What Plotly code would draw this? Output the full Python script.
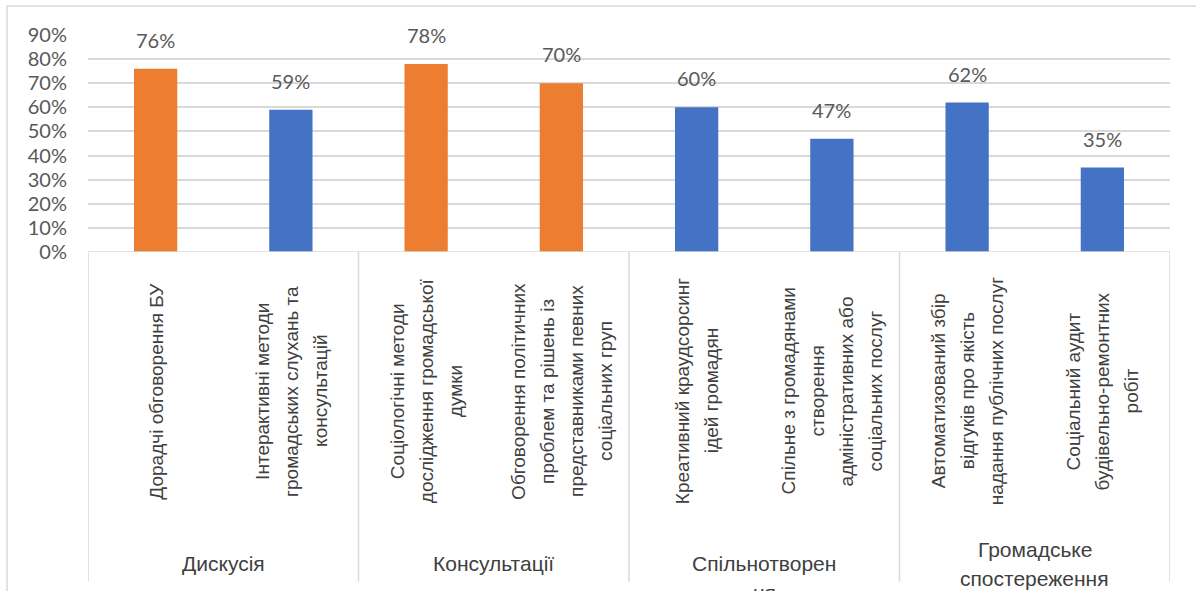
import plotly.graph_objects as go

# ---------------- data ----------------
groups = ["Дискусія", "Консультації", "Спільнотворен<br>ня", "Громадське<br>спостереження"]
group_sizes = [2, 2, 2, 2]
categories = [
    "Дорадчі обговорення БУ",
    "Інтерактивні методи<br>громадських слухань та<br>консультацій",
    "Соціологічні методи<br>дослідження громадської<br>думки",
    "Обговорення політичних<br>проблем та рішень із<br>представниками певних<br>соціальних груп",
    "Креативний краудсорсинг<br>ідей громадян",
    "Спільне з громадянами<br>створення<br>адміністративних або<br>соціальних послуг",
    "Автоматизований збір<br>відгуків про якість<br>надання публічних послуг",
    "Соціальний аудит<br>будівельно-ремонтних<br>робіт",
]
values = [0.76, 0.59, 0.78, 0.70, 0.60, 0.47, 0.62, 0.35]
highlighted = [True, False, True, True, False, False, False, False]
y_ticks = [0, 0.1, 0.2, 0.3, 0.4, 0.5, 0.6, 0.7, 0.8, 0.9]

# ---------------- style ----------------
ORANGE = "#ED7D31"
BLUE = "#4472C4"
GRID = "#D9D9D9"
TXT = "#595959"
LBL = "#404040"
NUM_FONT = "Lato, Liberation Sans, sans-serif"
LBL_FONT = "Liberation Sans, Arial, sans-serif"
LINE_GAP = 29  # px between wrapped label lines

colors = [ORANGE if h else BLUE for h in highlighted]
xs = list(range(len(categories)))

fig = go.Figure(
    go.Bar(
        x=xs,
        y=values,
        width=0.32,
        marker=dict(color=colors, line=dict(width=0)),
        hoverinfo="skip",
    )
)

annotations = []
# data labels
for x, v in zip(xs, values):
    annotations.append(dict(
        x=x, y=v, xref="x", yref="y", text=f"{round(v*100)}%",
        showarrow=False, yanchor="bottom", yshift=15,
        font=dict(family=NUM_FONT, size=20, color=TXT),
    ))

# rotated category labels (each wrapped line placed separately)
for x, c in zip(xs, categories):
    lines = c.split("<br>")
    n = len(lines)
    for i, ln in enumerate(lines):
        annotations.append(dict(
            x=x, y=0, xref="x", yref="paper", text=ln, textangle=-90,
            showarrow=False, xanchor="center", yanchor="middle",
            yshift=-139, xshift=(i - (n - 1) / 2) * LINE_GAP,
            font=dict(family=LBL_FONT, size=19, color=LBL),
        ))

shapes = []
# separators & group labels
start = 0
bounds = [-0.5]
group_center_shift = {0: -311, 1: -311, 2: -326, 3: -312}
for gi, (g, n) in enumerate(zip(groups, group_sizes)):
    center = start + (n - 1) / 2
    lines = g.split("<br>")
    m = len(lines)
    for i, ln in enumerate(lines):
        annotations.append(dict(
            x=center, y=0, xref="x", yref="paper", text=ln,
            showarrow=False, xanchor="center", yanchor="middle",
            yshift=group_center_shift[gi] - (i - (m - 1) / 2) * LINE_GAP,
            font=dict(family=LBL_FONT, size=21, color=LBL),
        ))
    start += n
    bounds.append(start - 0.5)

for b in bounds:
    shapes.append(dict(
        type="line", xref="x", yref="paper", x0=b, x1=b, y0=0, y1=-1.52,
        line=dict(color=GRID, width=1.5),
    ))
# axis baseline
shapes.append(dict(type="line", xref="paper", yref="y", x0=0, x1=1, y0=0, y1=0,
                   line=dict(color=GRID, width=1.5)))
# outer chart frame
shapes.append(dict(type="rect", xref="paper", yref="paper",
                   x0=-0.0748, x1=1.1, y0=1.134, y1=-1.7,
                   line=dict(color=GRID, width=1.5), fillcolor="rgba(0,0,0,0)"))

fig.update_layout(
    width=1196, height=591,
    margin=dict(l=88, r=26, t=35, b=339),
    paper_bgcolor="white", plot_bgcolor="white",
    showlegend=False,
    xaxis=dict(
        range=[-0.5, len(categories) - 0.5],
        showticklabels=False, showgrid=False, zeroline=False,
        showline=False, ticks="", fixedrange=True,
    ),
    yaxis=dict(
        range=[0, 0.9], tickvals=y_ticks, tickformat=".0%",
        showgrid=True, gridcolor=GRID, gridwidth=1.5,
        zeroline=False, showline=False, ticks="",
        ticklabelstandoff=20,
        tickfont=dict(family=NUM_FONT, size=20, color=TXT),
    ),
    annotations=annotations,
    shapes=shapes,
)

fig.write_html("out.html")
